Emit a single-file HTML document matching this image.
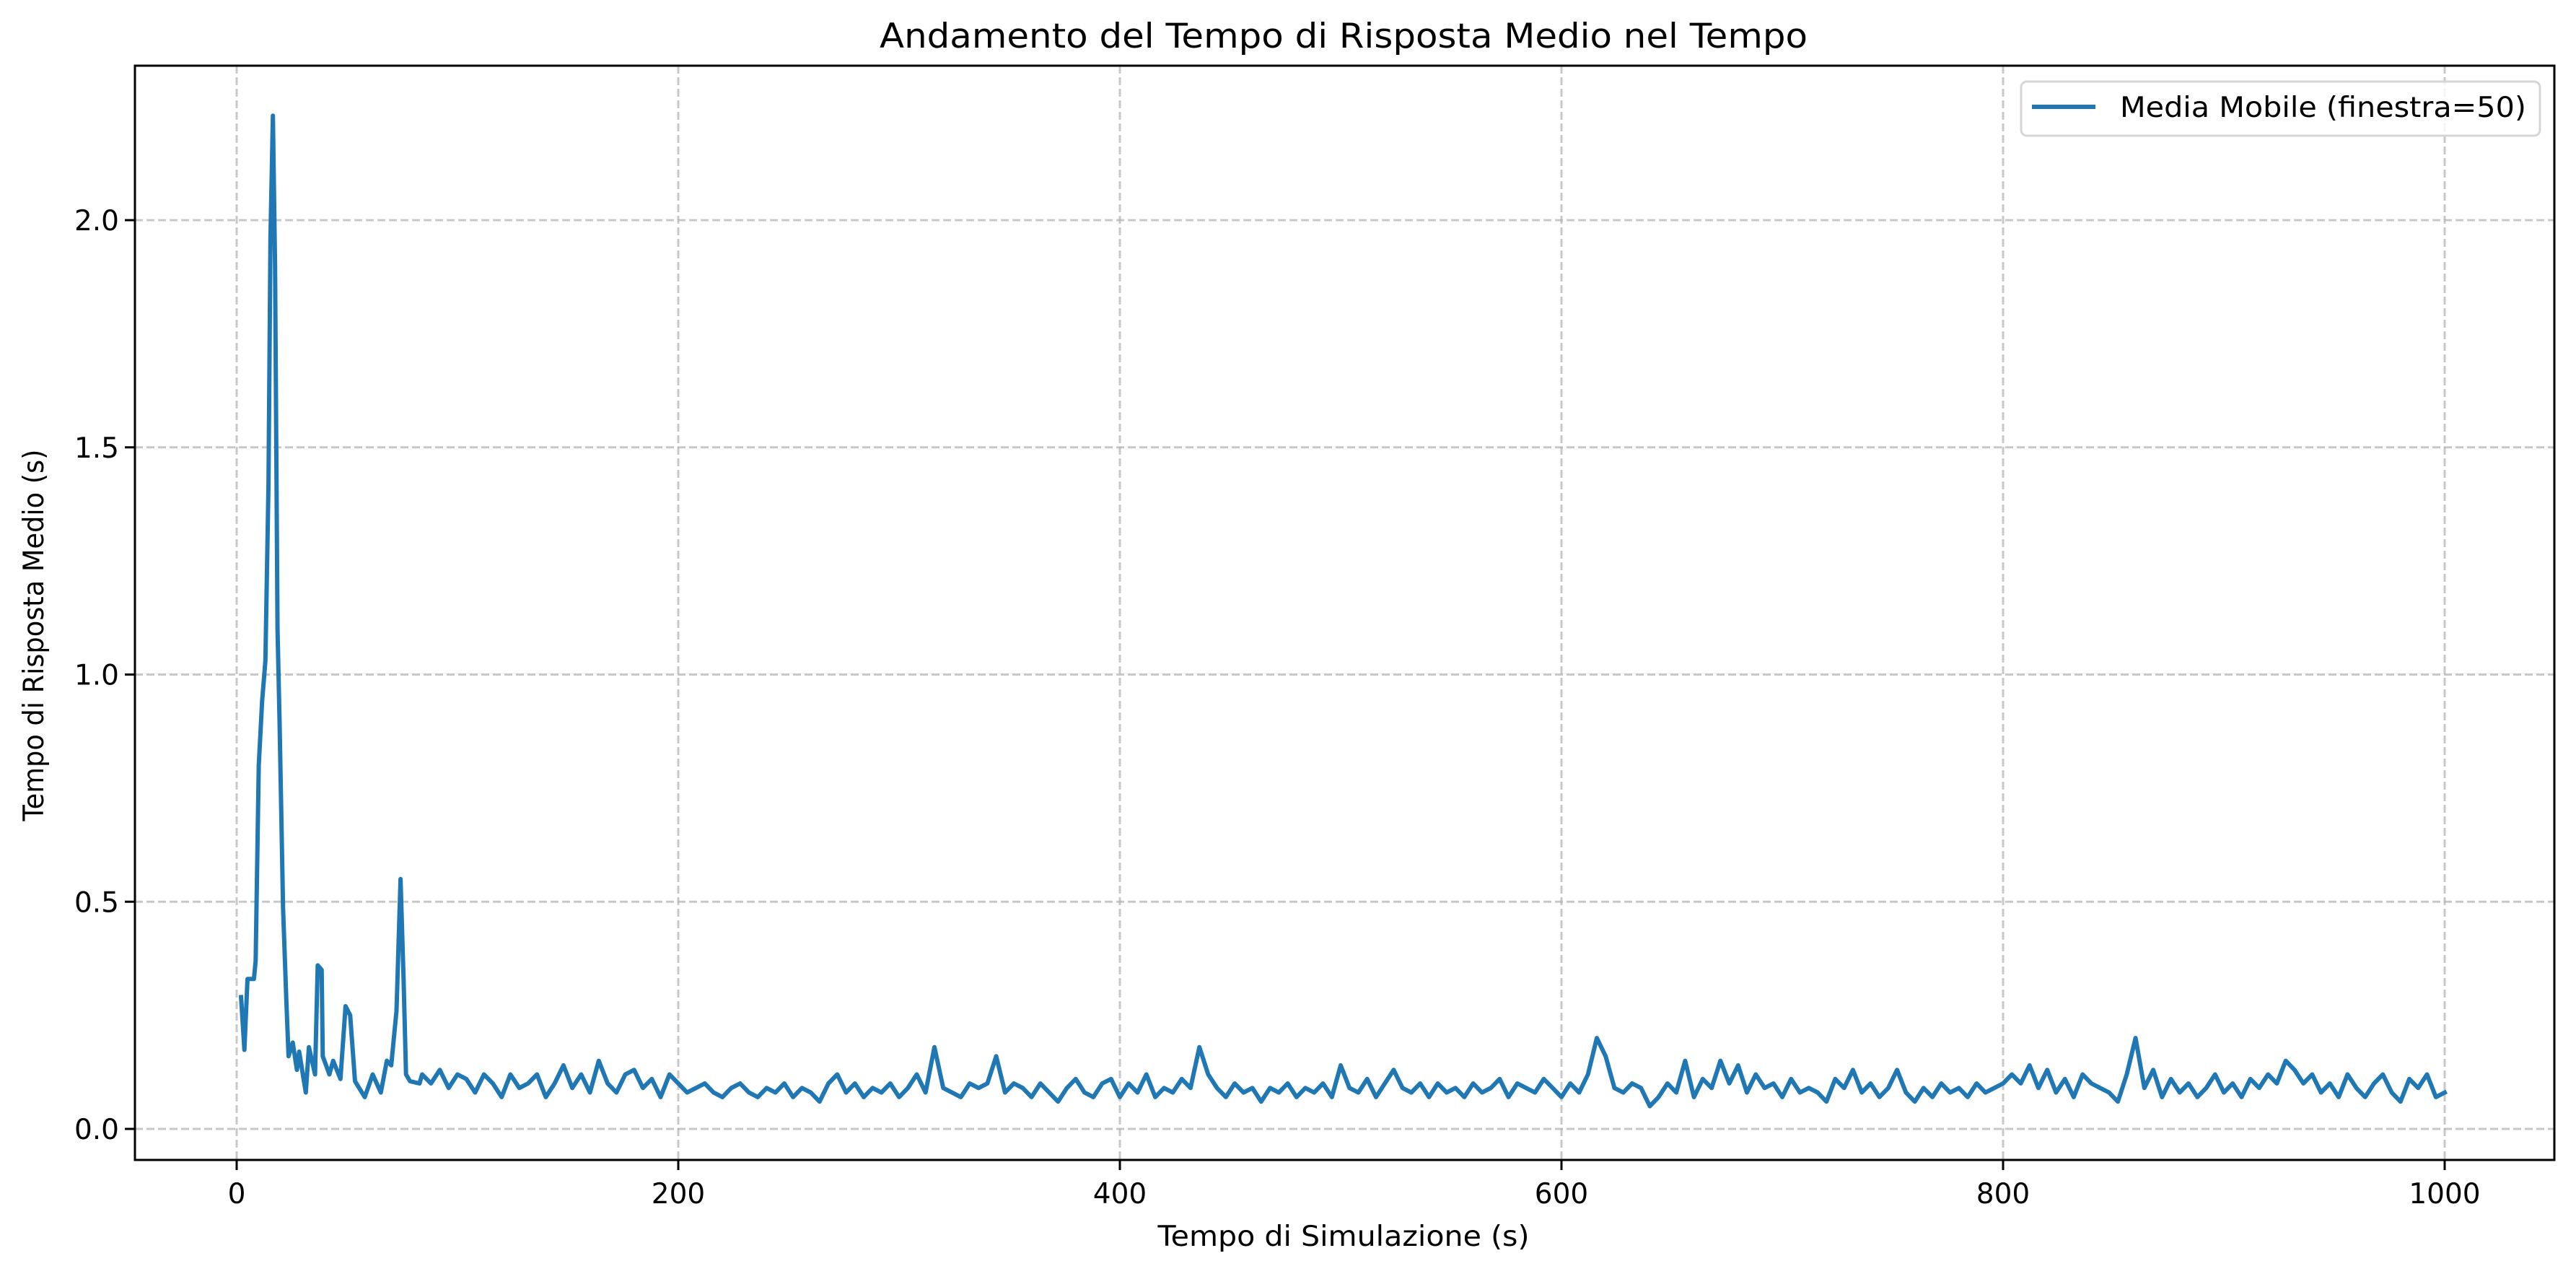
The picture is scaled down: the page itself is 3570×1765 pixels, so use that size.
<!DOCTYPE html>
<html><head><meta charset="utf-8"><style>
html,body{margin:0;padding:0;background:#fff}
svg{display:block}
text{font-family:"DejaVu Sans","Liberation Sans",sans-serif;fill:#000}
</style></head><body>
<svg id="chart" width="3570" height="1765" viewBox="0 0 3570 1765" xmlns="http://www.w3.org/2000/svg">
<rect width="3570" height="1765" fill="#fff"/>
<text x="1862" y="66" font-size="47" text-anchor="middle" textLength="1286" lengthAdjust="spacingAndGlyphs">Andamento del Tempo di Risposta Medio nel Tempo</text>
<g id="grid"></g>
<g id="ticks"></g>
<g id="series"></g>
<rect x="187" y="91" width="3353" height="1516" fill="none" stroke="#000" stroke-width="3"/>
<text x="1862" y="1726" font-size="39" text-anchor="middle" textLength="515" lengthAdjust="spacingAndGlyphs">Tempo di Simulazione (s)</text>
<text transform="translate(60,880) rotate(-90)" font-size="39" text-anchor="middle" textLength="515" lengthAdjust="spacingAndGlyphs">Tempo di Risposta Medio (s)</text>
<g>
<rect x="2801" y="113" width="719" height="75" rx="8" fill="#fff" fill-opacity="0.8" stroke="#d6d6d6" stroke-width="3"/>
<line x1="2816" y1="148" x2="2904" y2="148" stroke="#1f77b4" stroke-width="6"/>
<text x="2938" y="162" font-size="39" textLength="563" lengthAdjust="spacingAndGlyphs">Media Mobile (finestra=50)</text>
</g>
</svg>
<script>
const xTicks=[0,200,400,600,800,1000];
const yTicks=[0.0,0.5,1.0,1.5,2.0];
const yTickLabels=["0.0","0.5","1.0","1.5","2.0"];
const times=[2,3.5,4.9,5.6,7.8,8.6,10,11.5,13,14.4,15.3,16.4,17.4,18.5,19.4,21,22.5,23.5,25.4,27.3,28.3,31.3,32.7,35.5,36.7,38.5,39,42,43.7,47,49.3,51.4,53.6,58,61.6,65.3,68,70,72.4,74.2,75.6,76.7,78.5,82.8,
84,88,92,96,100,104,108,112,116,120,124,128,132,136,140,144,148,152,156,160,164,168,172,176,180,184,188,192,196,200,
204,208,212,216,220,224,228,232,236,240,244,248,252,256,260,264,268,272,276,280,284,288,292,296,300,304,308,312,316,320,
324,328,332,336,340,344,348,352,356,360,364,368,372,376,380,384,388,392,396,400,404,408,412,416,420,424,428,432,436,440,
444,448,452,456,460,464,468,472,476,480,484,488,492,496,500,504,508,512,516,520,524,528,532,536,540,544,548,552,556,560,
564,568,572,576,580,584,588,592,596,600,604,608,612,616,620,624,628,632,636,640,644,648,652,656,660,664,668,672,676,680,
684,688,692,696,700,704,708,712,716,720,724,728,732,736,740,744,748,752,756,760,764,768,772,776,780,784,788,792,796,800,
804,808,812,816,820,824,828,832,836,840,844,848,852,856,860,864,868,872,876,880,884,888,892,896,900,904,908,912,916,920,
924,928,932,936,940,944,948,952,956,960,964,968,972,976,980,984,988,992,996,1000];
const values=[0.29,0.174,0.33,0.33,0.33,0.37,0.80,0.94,1.03,1.42,1.96,2.23,1.9,1.1,0.90,0.485,0.28,0.16,0.19,0.13,0.17,0.08,0.18,0.12,0.36,0.35,0.16,0.12,0.15,0.11,0.27,0.25,0.105,0.07,0.12,0.08,0.15,0.14,0.26,0.55,0.33,0.12,0.105,0.10,
.12,.10,.13,.09,.12,.11,.08,.12,.10,.07,
.12,.09,.10,.12,.07,.10,.14,.09,.12,.08,
.15,.10,.08,.12,.13,.09,.11,.07,.12,.10,
.08,.09,.10,.08,.07,.09,.10,.08,.07,.09,
.08,.10,.07,.09,.08,.06,.10,.12,.08,.10,
.07,.09,.08,.10,.07,.09,.12,.08,.18,.09,
.08,.07,.10,.09,.10,.16,.08,.10,.09,.07,
.10,.08,.06,.09,.11,.08,.07,.10,.11,.07,
.10,.08,.12,.07,.09,.08,.11,.09,.18,.12,
.09,.07,.10,.08,.09,.06,.09,.08,.10,.07,
.09,.08,.10,.07,.14,.09,.08,.11,.07,.10,
.13,.09,.08,.10,.07,.10,.08,.09,.07,.10,
.08,.09,.11,.07,.10,.09,.08,.11,.09,.07,
.10,.08,.12,.20,.16,.09,.08,.10,.09,.05,
.07,.10,.08,.15,.07,.11,.09,.15,.10,.14,
.08,.12,.09,.10,.07,.11,.08,.09,.08,.06,
.11,.09,.13,.08,.10,.07,.09,.13,.08,.06,
.09,.07,.10,.08,.09,.07,.10,.08,.09,.10,
.12,.10,.14,.09,.13,.08,.11,.07,.12,.10,
.09,.08,.06,.12,.20,.09,.13,.07,.11,.08,
.10,.07,.09,.12,.08,.10,.07,.11,.09,.12,
.10,.15,.13,.10,.12,.08,.10,.07,.12,.09,
.07,.10,.12,.08,.06,.11,.09,.12,.07,.08];

const NS="http://www.w3.org/2000/svg";
const L=187,R=3540,T=91,B=1607;
function xs(v){return 328+(v-0)*(3388-328)/1000;}
function ys(v){return 1564-v*(1564-305)/2.0;}
const grid=document.getElementById('grid'),ticks=document.getElementById('ticks'),series=document.getElementById('series');
function mk(tag,attrs,parent){const e=document.createElementNS(NS,tag);for(const k in attrs)e.setAttribute(k,attrs[k]);parent.appendChild(e);return e;}
xTicks.forEach(t=>{
  const x=xs(t);
  const g=mk('line',{x1:x,y1:T,x2:x,y2:B,stroke:'#b0b0b0','stroke-opacity':0.7,'stroke-width':3,'stroke-dasharray':'11,5'},grid);
  
  
  const tk=mk('line',{x1:x,y1:B,x2:x,y2:B+14,stroke:'#000','stroke-width':3},ticks);
  
  
  const tx=mk('text',{x:x,y:1667,'font-size':39,'text-anchor':'middle'},ticks);
  tx.textContent=String(t);
  
  
});
yTicks.forEach((t,i)=>{
  const y=ys(t);
  const g=mk('line',{x1:L,y1:y,x2:R,y2:y,stroke:'#b0b0b0','stroke-opacity':0.7,'stroke-width':3,'stroke-dasharray':'11,5'},grid);
  
  
  const tk=mk('line',{x1:L-14,y1:y,x2:L,y2:y,stroke:'#000','stroke-width':3},ticks);
  
  
  const tx=mk('text',{x:L-22,y:y+14,'font-size':39,'text-anchor':'end'},ticks);
  tx.textContent=yTickLabels[i];
  
  
});
let d='';
for(let i=0;i<times.length;i++){d+=(i?'L':'M')+xs(times[i]).toFixed(1)+','+ys(values[i]).toFixed(1);}
const p=mk('path',{d:d,fill:'none',stroke:'#1f77b4','stroke-width':6,'stroke-linejoin':'round','stroke-linecap':'square'},series);


</script>
</body></html>
